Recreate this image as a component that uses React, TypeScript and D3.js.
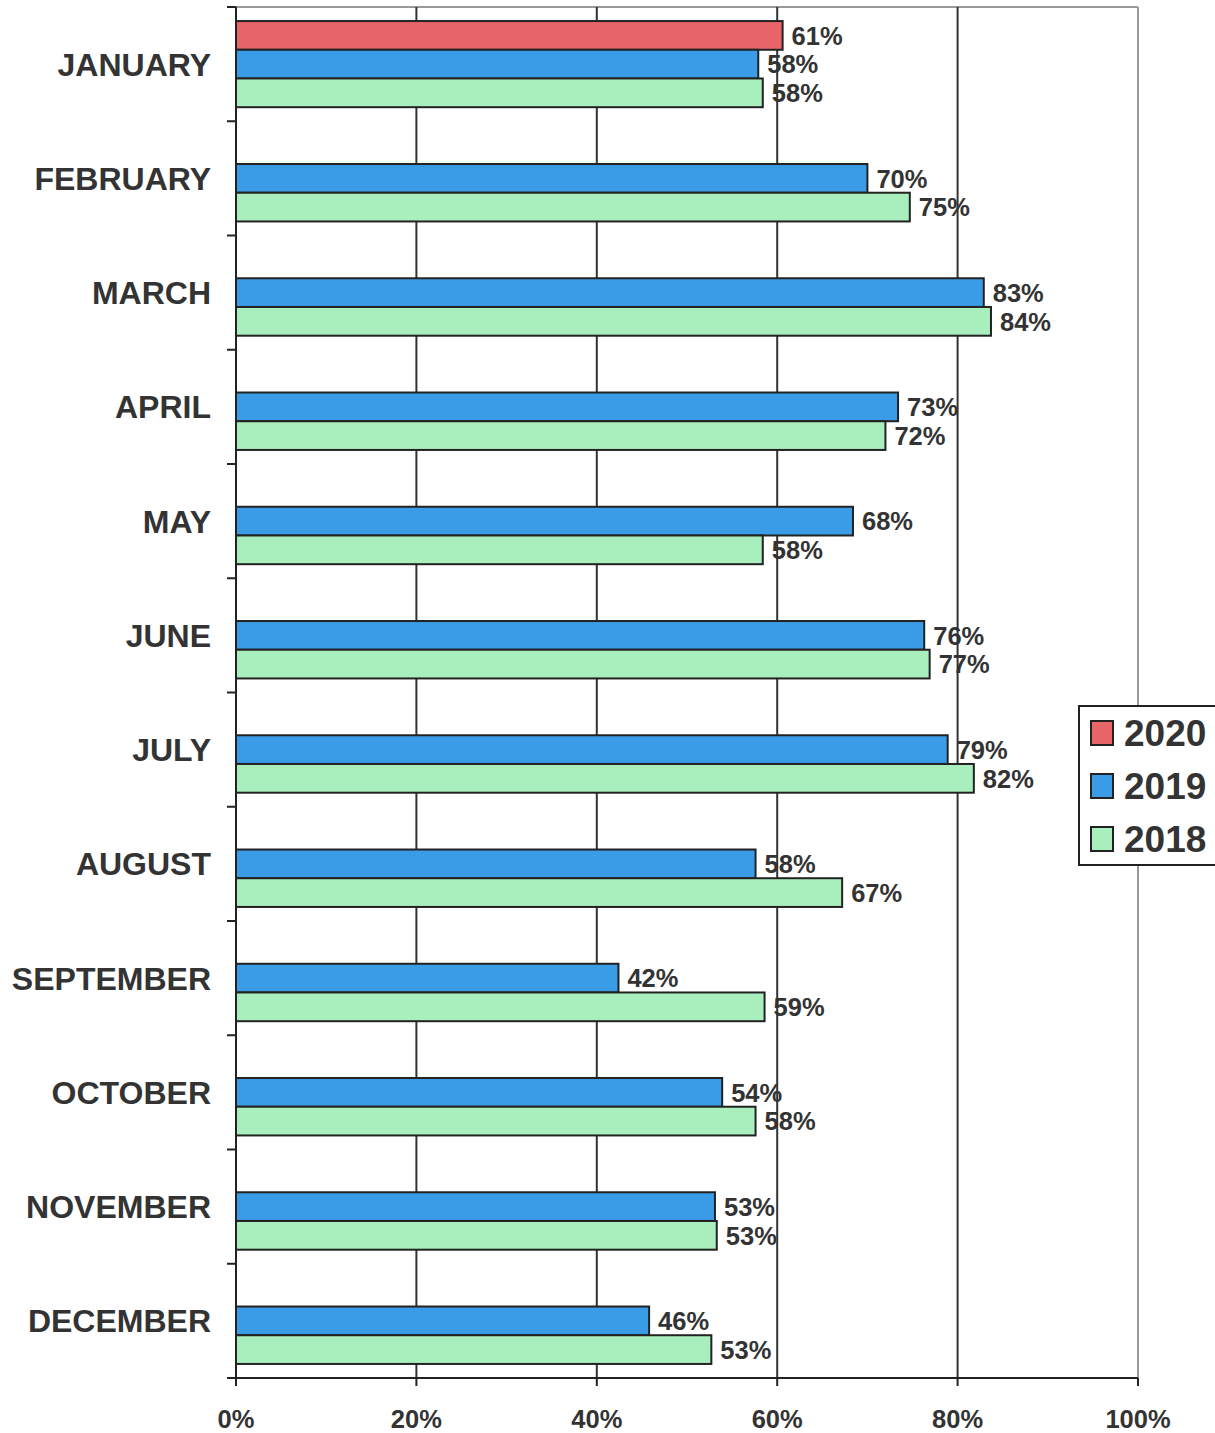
import React from "react";
import * as d3 from "d3";

const months = ["JANUARY","FEBRUARY","MARCH","APRIL","MAY","JUNE","JULY","AUGUST","SEPTEMBER","OCTOBER","NOVEMBER","DECEMBER"];
const seriesNames = ["2020","2019","2018"];
const values2020: (number | null)[] = [60.6,null,null,null,null,null,null,null,null,null,null,null];
const values2019: (number | null)[] = [57.9,70.0,82.9,73.4,68.4,76.3,78.9,57.6,42.4,53.9,53.1,45.8];
const values2018: (number | null)[] = [58.4,74.7,83.7,72.0,58.4,76.9,81.8,67.2,58.6,57.6,53.3,52.7];
const xTicks = [0,20,40,60,80,100];
const colors = ["#e8656a","#3a9be6","#a9efbd"];

const W = 1215, H = 1433;
const left = 236, right = 1138, top = 7, bottom = 1378;
const FONT = "'Liberation Sans', Arial, sans-serif";
const TXT = "#333";

export default function App() {
  const x = d3.scaleLinear().domain([0, 100]).range([left, right]);
  const y = d3.scaleBand().domain(months).range([top, bottom]).padding(0);
  const bw = y.bandwidth();
  const inner = d3.scaleBand().domain(seriesNames).range([bw * 0.123, bw * 0.877]).padding(0);
  const allSeries = [values2020, values2019, values2018];
  const fmt = (v: number) => `${Math.round(v)}%`;

  return (
    <svg width={W} height={H} style={{ position: "absolute", left: 0, top: 0, background: "#fff" }} fontFamily={FONT}>
      <rect x={0} y={0} width={W} height={H} fill="#fff" />
      <line x1={left} x2={right} y1={top} y2={top} stroke="#999" strokeWidth={2} />
      <line x1={right} x2={right} y1={top} y2={bottom} stroke="#999" strokeWidth={2} />
      {xTicks.filter(t => t > 0 && t < 100).map(t => (
        <line key={t} x1={x(t)} x2={x(t)} y1={top} y2={bottom} stroke="#333" strokeWidth={2} />
      ))}
      {months.map((m, i) => (
        <g key={m}>
          {allSeries.map((s, si) => {
            const v = s[i];
            if (v == null) return null;
            const yy = (y(m) as number) + (inner(seriesNames[si]) as number);
            return (
              <rect key={si} x={x(0)} y={yy} width={x(v) - x(0)} height={inner.bandwidth()}
                fill={colors[si]} stroke="#222" strokeWidth={2} />
            );
          })}
        </g>
      ))}
      {months.map((m, i) => (
        <g key={m + "l"}>
          {allSeries.map((s, si) => {
            const v = s[i];
            if (v == null) return null;
            const yy = (y(m) as number) + (inner(seriesNames[si]) as number) + inner.bandwidth() / 2;
            return (
              <text key={si} x={x(v) + 9} y={yy} dy="0.36em" fontSize={25.5} fontWeight="bold" fill={TXT}>
                {fmt(v)}
              </text>
            );
          })}
        </g>
      ))}
      <line x1={left} x2={left} y1={top} y2={bottom} stroke="#222" strokeWidth={2} />
      <line x1={left - 9} x2={right} y1={bottom} y2={bottom} stroke="#222" strokeWidth={2} />
      {months.map(m => (
        <line key={m + "t"} x1={left - 9} x2={left} y1={y(m) as number} y2={y(m) as number} stroke="#222" strokeWidth={2} />
      ))}
      {xTicks.map(t => (
        <g key={t + "x"}>
          <line x1={x(t)} x2={x(t)} y1={bottom} y2={bottom + 8} stroke="#222" strokeWidth={2} />
          <text x={x(t)} y={1419} dy="0.36em" textAnchor="middle" fontSize={25.5} fontWeight="bold" fill={TXT}>{t}%</text>
        </g>
      ))}
      {months.map(m => (
        <text key={m + "c"} x={211} y={(y(m) as number) + bw / 2} dy="0.36em" textAnchor="end" fontSize={32} fontWeight="bold" fill={TXT}>
          {m}
        </text>
      ))}
      <rect x={1079} y={706} width={150} height={159} fill="#fff" stroke="#222" strokeWidth={2} />
      {seriesNames.map((s, i) => (
        <g key={s + "lg"}>
          <rect x={1091} y={721 + i * 53} width={22} height={24} fill={colors[i]} stroke="#222" strokeWidth={2} />
          <text x={1124} y={733 + i * 53} dy="0.36em" fontSize={37} fontWeight="bold" fill={TXT}>{s}</text>
        </g>
      ))}
    </svg>
  );
}
